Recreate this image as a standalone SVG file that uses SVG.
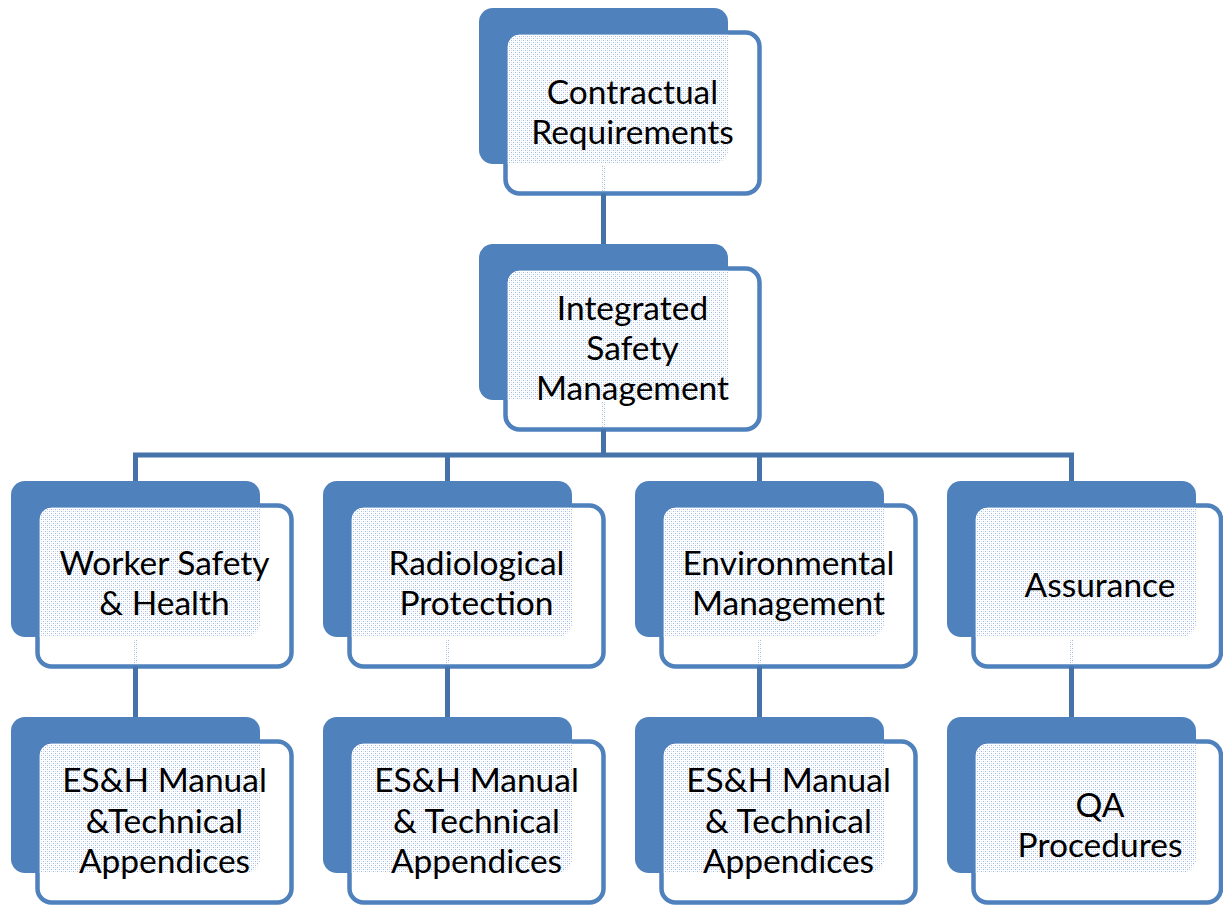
<svg xmlns="http://www.w3.org/2000/svg" xmlns:xlink="http://www.w3.org/1999/xlink" width="1223" height="910" viewBox="0 0 1223 910">
  <style>
    .back { fill: #4F81BD; }
    .front { fill: #FFFFFF; stroke: #4F81BD; stroke-width: 4.5; }
    .shade { fill: url(#dots); }
    .link { fill: none; stroke: #4672AA; stroke-width: 5; }
    .seep { fill: url(#dots); }
    .label { font-family: "Lato", "Liberation Sans", sans-serif; font-size: 33.5px; fill: #000000; text-anchor: middle; }
  </style>
  <defs>
    <!-- translucent white over blue, dithered -->
    <pattern id="dots" width="4" height="4" patternUnits="userSpaceOnUse">
      <rect width="4" height="4" fill="#FFFFFF"/>
      <rect x="0" y="0" width="1" height="1" fill="#A3BAE0"/>
      <rect x="2" y="2" width="1" height="1" fill="#A3BAE0"/>
      <rect x="2" y="0" width="1" height="1" fill="#D8E2F2"/>
      <rect x="0" y="2" width="1" height="1" fill="#D8E2F2"/>
    </pattern>
    <!-- card: solid back plate with an offset outlined front panel -->
    <g id="card">
      <rect class="back" x="0" y="0" width="249" height="156" rx="14"/>
      <rect class="front" x="26.5" y="24.5" width="254" height="161" rx="14"/>
      <path class="shade" d="M28.75,38.75 A12,12 0 0 1 40.75,26.75 H249 V142 A14,14 0 0 1 235,156 H28.75 Z"/>
    </g>
    <g id="card-edge">
      <rect class="back" x="0" y="0" width="249" height="156" rx="14"/>
      <rect class="front" x="26.5" y="24.5" width="247.5" height="161" rx="14"/>
      <path class="shade" d="M28.75,38.75 A12,12 0 0 1 40.75,26.75 H249 V142 A14,14 0 0 1 235,156 H28.75 Z"/>
    </g>
  </defs>

  <rect width="1223" height="910" fill="#FFFFFF"/>

  <g id="nodes">
    <g id="contractual" transform="translate(479,8)">
      <use xlink:href="#card"/>
      <text class="label" x="153.5" y="96">Contractual</text>
      <text class="label" x="153.5" y="136">Requirements</text>
    </g>
    <g id="ism" transform="translate(479,244)">
      <use xlink:href="#card"/>
      <text class="label" x="153.5" y="76">Integrated</text>
      <text class="label" x="153.5" y="116">Safety</text>
      <text class="label" x="153.5" y="156">Management</text>
    </g>
    <g id="worker-safety" transform="translate(11,481)">
      <use xlink:href="#card"/>
      <text class="label" x="153.5" y="94">Worker Safety</text>
      <text class="label" x="153.5" y="134">&amp; Health</text>
    </g>
    <g id="radiological" transform="translate(323,481)">
      <use xlink:href="#card"/>
      <text class="label" x="153.5" y="94">Radiological</text>
      <text class="label" x="153.5" y="134">Protection</text>
    </g>
    <g id="environmental" transform="translate(635,481)">
      <use xlink:href="#card"/>
      <text class="label" x="153.5" y="94">Environmental</text>
      <text class="label" x="153.5" y="134">Management</text>
    </g>
    <g id="assurance" transform="translate(947,481)">
      <use xlink:href="#card-edge"/>
      <text class="label" x="153" y="116">Assurance</text>
    </g>
    <g id="worker-manual" transform="translate(11,717)">
      <use xlink:href="#card"/>
      <text class="label" x="153.5" y="75">ES&amp;H Manual</text>
      <text class="label" x="153.5" y="116">&amp;Technical</text>
      <text class="label" x="153.5" y="156">Appendices</text>
    </g>
    <g id="radiological-manual" transform="translate(323,717)">
      <use xlink:href="#card"/>
      <text class="label" x="153.5" y="75">ES&amp;H Manual</text>
      <text class="label" x="153.5" y="116">&amp; Technical</text>
      <text class="label" x="153.5" y="156">Appendices</text>
    </g>
    <g id="environmental-manual" transform="translate(635,717)">
      <use xlink:href="#card"/>
      <text class="label" x="153.5" y="75">ES&amp;H Manual</text>
      <text class="label" x="153.5" y="116">&amp; Technical</text>
      <text class="label" x="153.5" y="156">Appendices</text>
    </g>
    <g id="qa-procedures" transform="translate(947,717)">
      <use xlink:href="#card-edge"/>
      <text class="label" x="153" y="100">QA</text>
      <text class="label" x="153" y="140">Procedures</text>
    </g>
  </g>

  <g id="connectors">
    <path class="link" d="M603.5,193.5 V244"/>
    <path class="link" d="M603.5,429.5 V455"/>
    <path class="link" d="M135.5,481 V455 H1071.5 V481 M447.5,455 V481 M759.5,455 V481"/>
    <path class="link" d="M135.5,666.5 V717 M447.5,666.5 V717 M759.5,666.5 V717 M1071.5,666.5 V717"/>
    <!-- stems showing faintly through the front panels -->
    <rect class="seep" x="601" y="166" width="5" height="25"/>
    <rect class="seep" x="601" y="402" width="5" height="25"/>
    <rect class="seep" x="133" y="639" width="5" height="25"/>
    <rect class="seep" x="445" y="639" width="5" height="25"/>
    <rect class="seep" x="757" y="639" width="5" height="25"/>
    <rect class="seep" x="1069" y="639" width="5" height="25"/>
  </g>
</svg>
